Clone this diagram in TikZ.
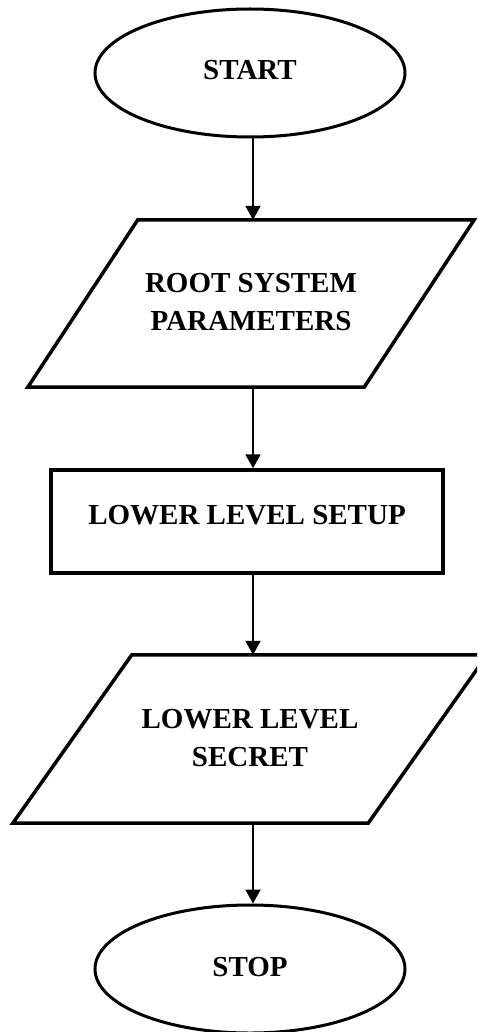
\documentclass[tikz,border=0pt]{standalone}
\usepackage{fontspec}
\setmainfont{Liberation Serif}
\usetikzlibrary{shapes.geometric,arrows.meta,calc}
\begin{document}
\begin{tikzpicture}[x=1pt,y=-1pt,
  lbl/.style={font=\bfseries\fontsize{29}{38}\selectfont,align=center,inner sep=0pt},
  term/.style={ellipse,draw,line width=3pt,inner sep=0pt},
  frame/.style={draw,line width=3.5pt,line join=miter},
  arr/.style={line width=2pt,-{Triangle[length=14pt,width=15pt]}}]
\useasboundingbox (0,0) rectangle (477,1032);
\begin{scope}
\clip (0,0) rectangle (477,1032);
% START
\node (start) [term,minimum width=310pt,minimum height=128pt] at (250,73) {};
\node (tstart) [lbl] at (250,70) {START};
% parallelogram 1
\node (p1) [inner sep=0pt,minimum width=336pt,minimum height=167pt] at (251,303.5) {};
\draw[frame] ($(p1.north west)+(55,0)$) -- ($(p1.north east)+(55,0)$) -- ($(p1.south east)+(-55,0)$) -- ($(p1.south west)+(-55,0)$) -- cycle;
\node (tp1) [lbl] at (251,302.5) {ROOT SYSTEM\\PARAMETERS};
% rectangle
\node (r) [frame,inner sep=0pt,minimum width=392pt,minimum height=103pt] at (247,521.5) {};
\node (tr) [lbl] at (247,515) {LOWER LEVEL SETUP};
% parallelogram 2
\node (p2) [inner sep=0pt,minimum width=355pt,minimum height=168pt] at (250,739) {};
\draw[frame] ($(p2.north west)+(59.5,0)$) -- ($(p2.north east)+(59.5,0)$) -- ($(p2.south east)+(-59.5,0)$) -- ($(p2.south west)+(-59.5,0)$) -- cycle;
\node (tp2) [lbl] at (250,738.5) {LOWER LEVEL\\SECRET};
% STOP
\node (stop) [term,minimum width=310pt,minimum height=128pt] at (250,969) {};
\node (tstop) [lbl] at (250,967) {STOP};
% arrows
\coordinate (ax) at (253,0);
\draw[arr] (start.south -| ax) -- (p1.north -| ax);
\draw[arr] (p1.south -| ax) -- (r.north -| ax);
\draw[arr] (r.south -| ax) -- (p2.north -| ax);
\draw[arr] (p2.south -| ax) -- (stop.north -| ax);
\end{scope}
\end{tikzpicture}
\end{document}
